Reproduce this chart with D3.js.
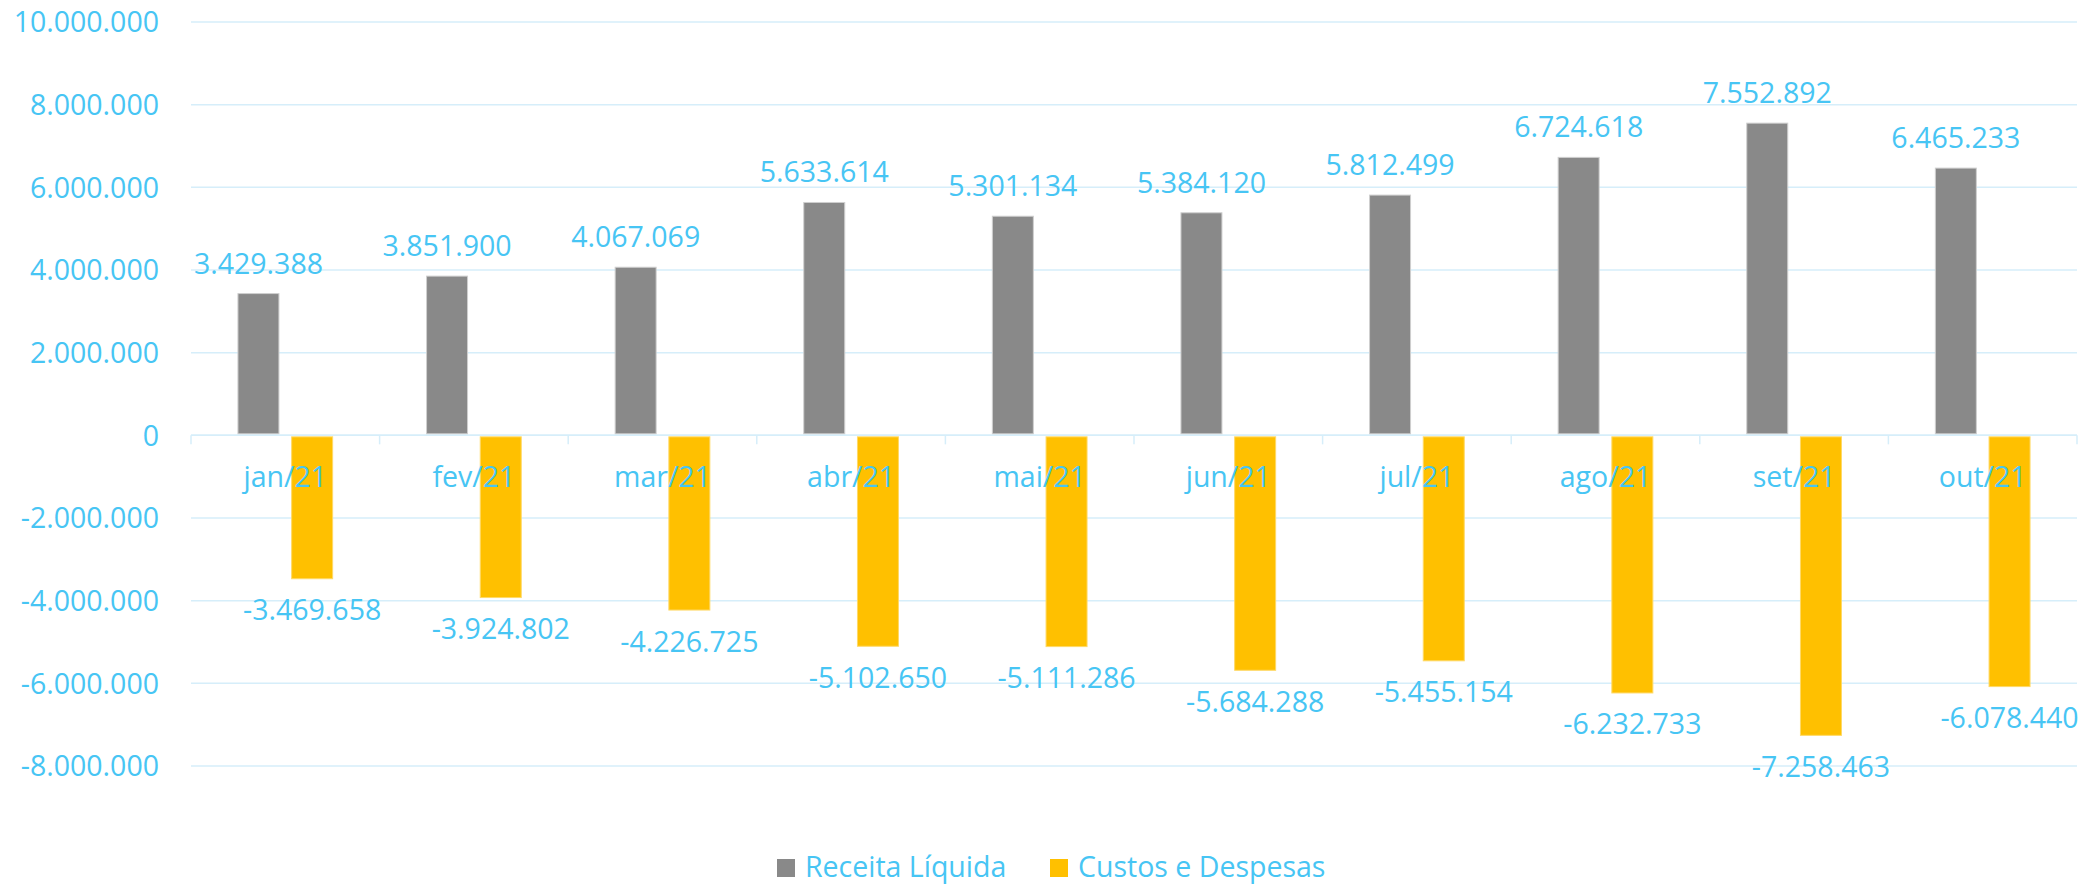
<!DOCTYPE html>
<html>
<head>
<meta charset="utf-8">
<script src="https://cdn.jsdelivr.net/npm/d3@7"></script>
<style>
  html, body { margin: 0; padding: 0; background: #ffffff; }
  svg { display: block; }
  text { font-family: "Open Sans", "Noto Sans", sans-serif; fill: #47C5F4; }
</style>
</head>
<body>
<svg id="chart" width="2089" height="886"></svg>
<script>
const categories = ["jan/21", "fev/21", "mar/21", "abr/21", "mai/21", "jun/21", "jul/21", "ago/21", "set/21", "out/21"];
const receita = [3429388, 3851900, 4067069, 5633614, 5301134, 5384120, 5812499, 6724618, 7552892, 6465233];
const custos = [-3469658, -3924802, -4226725, -5102650, -5111286, -5684288, -5455154, -6232733, -7258463, -6078440];
const seriesNames = ["Receita Líquida", "Custos e Despesas"];
const yTicks = [-8000000, -6000000, -4000000, -2000000, 0, 2000000, 4000000, 6000000, 8000000, 10000000];

const colors = ["#898989", "#FFC000"];
const strokes = ["#cfcfcf", "#ffd966"];

const svg = d3.select("#chart");
const plot = { left: 191, right: 2077, top: 22, bottom: 766 };

const y = d3.scaleLinear().domain([-8000000, 10000000]).range([plot.bottom, plot.top]);
const x0 = d3.scaleBand().domain(categories).range([plot.left, plot.right])
  .paddingInner(0.4926).paddingOuter(0.2463);
const x1 = d3.scaleBand().domain([0, 1]).range([0, x0.bandwidth()]).paddingInner(0.218).paddingOuter(0);

const fmt = v => {
  const s = d3.format(",")(Math.abs(v)).replace(/,/g, ".");
  return (v < 0 ? "-" : "") + s;
};

const fontSize = 28.5;

// gridlines
svg.append("g").selectAll("line").data(yTicks).join("line")
  .attr("x1", plot.left).attr("x2", plot.right)
  .attr("y1", d => y(d)).attr("y2", d => y(d))
  .attr("stroke", "#D6EEFA").attr("stroke-width", 1.5);

// y axis labels
svg.append("g").selectAll("text").data(yTicks).join("text")
  .attr("x", 159).attr("y", d => y(d)).attr("dy", "0.36em")
  .attr("text-anchor", "end").attr("font-size", fontSize)
  .text(d => fmt(d));

const data = categories.map((c, i) => ({ c, vals: [receita[i], custos[i]] }));

// bars
const groups = svg.append("g").selectAll("g").data(data).join("g")
  .attr("transform", d => `translate(${x0(d.c)},0)`);

groups.selectAll("rect").data(d => d.vals.map((v, k) => ({ v, k }))).join("rect")
  .attr("x", d => x1(d.k) + 0.5)
  .attr("width", x1.bandwidth() - 1)
  .attr("y", d => d.v >= 0 ? y(d.v) : y(0) + 1.5)
  .attr("height", d => d.v >= 0 ? y(0) - y(d.v) - 1.5 : y(d.v) - y(0) - 1.5)
  .attr("fill", d => colors[d.k])
  .attr("stroke", d => strokes[d.k]).attr("stroke-width", 1);

// zero axis line and category ticks
const zeroY = y(0);
svg.append("line").attr("x1", plot.left).attr("x2", plot.right)
  .attr("y1", zeroY).attr("y2", zeroY)
  .attr("stroke", "#D6EEFA").attr("stroke-width", 1.5);
const tickXs = categories.map(c => x0(c) - x0.step() * x0.paddingOuter()).concat([plot.right]);
svg.append("g").selectAll("line").data(tickXs).join("line")
  .attr("x1", d => d).attr("x2", d => d)
  .attr("y1", zeroY).attr("y2", zeroY + 9)
  .attr("stroke", "#D6EEFA").attr("stroke-width", 1.5);

// category labels
svg.append("g").selectAll("text").data(categories).join("text")
  .attr("x", d => x0(d) + x0.bandwidth() / 2)
  .attr("y", zeroY + 51.5)
  .attr("text-anchor", "middle").attr("font-size", fontSize)
  .text(d => d);

// data labels
groups.selectAll("text").data(d => d.vals.map((v, k) => ({ v, k }))).join("text")
  .attr("x", d => x1(d.k) + x1.bandwidth() / 2)
  .attr("y", d => d.v >= 0 ? y(d.v) - 20 : y(d.v) + 41.5)
  .attr("text-anchor", "middle").attr("font-size", fontSize)
  .text(d => fmt(d.v));

// legend
const legendItems = [
  { name: seriesNames[0], color: colors[0], x: 777 },
  { name: seriesNames[1], color: colors[1], x: 1050 }
];
const lg = svg.append("g").selectAll("g").data(legendItems).join("g")
  .attr("transform", d => `translate(${d.x},859)`);
lg.append("rect").attr("width", 18).attr("height", 18).attr("fill", d => d.color);
lg.append("text").attr("x", 28).attr("y", 18).attr("font-size", fontSize).text(d => d.name);
</script>
</body>
</html>
